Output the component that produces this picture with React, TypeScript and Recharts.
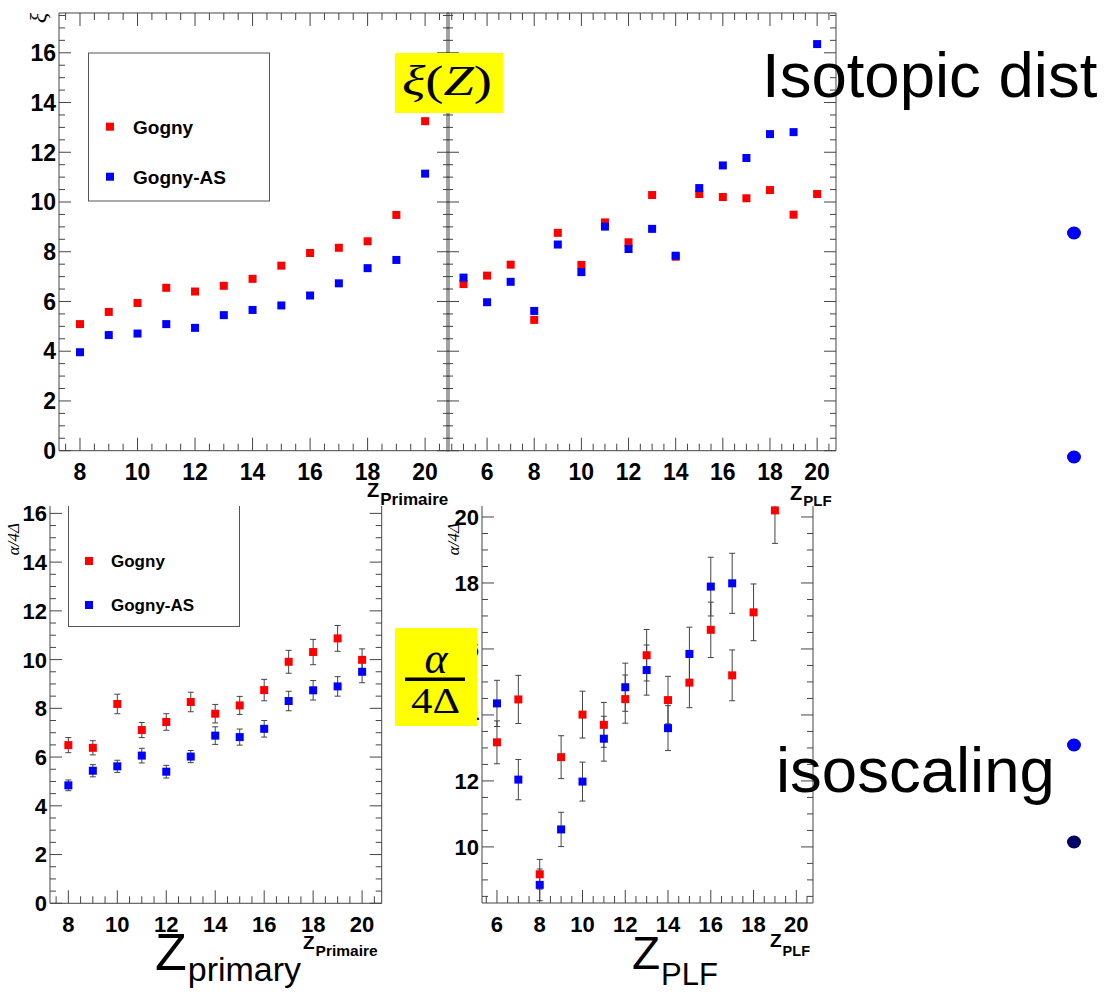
import React from 'react';
import { ScatterChart, Scatter, XAxis, YAxis, ErrorBar } from 'recharts';

// ---- data ----
const zPrimary = [8, 9, 10, 11, 12, 13, 14, 15, 16, 17, 18, 19, 20];
const zPlfTop = [5, 6, 7, 8, 9, 10, 11, 12, 13, 14, 15, 16, 17, 18, 19, 20];
const zPlfGogny = [6, 7, 8, 9, 10, 11, 12, 13, 14, 15, 16, 17, 18, 19];
const zPlfGognyAS = [6, 7, 8, 9, 10, 11, 12, 13, 14, 15, 16, 17];

const xiPrimaryGogny = [5.09, 5.58, 5.94, 6.55, 6.4, 6.63, 6.91, 7.44, 7.95, 8.16, 8.42, 9.48, 13.25];
const xiPrimaryGognyAS = [3.96, 4.65, 4.71, 5.09, 4.94, 5.45, 5.66, 5.84, 6.24, 6.73, 7.34, 7.67, 11.14];

const xiPlfGogny = [6.7, 7.04, 7.48, 5.26, 8.76, 7.47, 9.18, 8.38, 10.28, 7.8, 10.32, 10.2, 10.15, 10.48, 9.49, 10.32];
const xiPlfGognyAS = [6.96, 5.97, 6.79, 5.62, 8.29, 7.18, 9.01, 8.11, 8.92, 7.84, 10.56, 11.47, 11.77, 12.73, 12.81, 16.35];

const alphaPrimaryGogny = [6.49, 6.38, 8.18, 7.11, 7.44, 8.26, 7.78, 8.12, 8.75, 9.91, 10.31, 10.87, 9.99];
const alphaPrimaryGognyErr = [0.31, 0.29, 0.4, 0.31, 0.34, 0.4, 0.38, 0.37, 0.44, 0.47, 0.52, 0.53, 0.45];
const alphaPrimaryGognyAS = [4.84, 5.44, 5.62, 6.06, 5.4, 6.02, 6.88, 6.82, 7.16, 8.3, 8.74, 8.9, 9.5];
const alphaPrimaryGognyASErr = [0.22, 0.25, 0.25, 0.3, 0.26, 0.25, 0.36, 0.33, 0.34, 0.4, 0.4, 0.4, 0.45];

const alphaPlfGogny = [13.17, 14.47, 9.17, 12.72, 14.01, 13.7, 14.48, 15.81, 14.45, 14.98, 16.58, 15.2, 17.11, 20.2];
const alphaPlfGognyErr = [0.65, 0.73, 0.45, 0.65, 0.71, 0.68, 0.73, 0.78, 0.72, 0.76, 0.84, 0.77, 0.86, 1.0];
const alphaPlfGognyAS = [14.35, 12.04, 8.85, 10.53, 11.98, 13.28, 14.84, 15.36, 13.6, 15.85, 17.89, 17.99];
const alphaPlfGognyASErr = [0.7, 0.61, 0.48, 0.52, 0.59, 0.68, 0.73, 0.76, 0.68, 0.81, 0.89, 0.91];

const seriesNames = ['Gogny', 'Gogny-AS'];

const RED = '#ff0000';
const BLUE = '#0000ff';
const AXIS = '#444';
const SANS = '"Liberation Sans", Arial, Helvetica, sans-serif';
const SERIF = '"Liberation Serif", "Times New Roman", serif';

const toPoints = (xs: number[], ys: number[], errs?: number[]) =>
  xs.map((x, i) => ({ x, y: ys[i], err: errs ? errs[i] : 0 }));

// minor ticks every 0.5, majors (labelled) on even numbers, ROOT style
const halfSteps = (from: number, to: number) => {
  const out: number[] = [];
  for (let v = from; v <= to + 1e-9; v += 0.5) out.push(Math.round(v * 2) / 2);
  return out;
};
const isMajor = (v: number) => Math.abs(v / 2 - Math.round(v / 2)) < 1e-6;

type Side = 'bottom' | 'top' | 'left' | 'right';

const makeTick = (side: Side, fontSize: number, showLabels: boolean) => (props: any) => {
  const { x, y, payload } = props;
  const v = payload.value;
  const major = isMajor(v);
  const xLen = major ? 13 : 7;
  const yLen = major ? 12 : 6;
  let line;
  let label = null;
  if (side === 'bottom') {
    line = <line x1={x} x2={x} y1={y} y2={y - xLen} />;
    if (showLabels && major) {
      label = <text x={x} y={y + 29} textAnchor="middle">{v}</text>;
    }
  } else if (side === 'top') {
    line = <line x1={x} x2={x} y1={y} y2={y + xLen} />;
  } else if (side === 'left') {
    line = <line x1={x} x2={x + yLen} y1={y} y2={y} />;
    if (showLabels && major) {
      label = <text x={x - 3} y={y + fontSize * 0.36} textAnchor="end">{v}</text>;
    }
  } else {
    line = <line x1={x} x2={x - yLen} y1={y} y2={y} />;
  }
  return (
    <g>
      <g stroke={AXIS} strokeWidth={1}>{line}</g>
      {label && (
        <g fill="#000" stroke="none" fontFamily={SANS} fontWeight="bold" fontSize={fontSize}>{label}</g>
      )}
    </g>
  );
};

const squareShape = (color: string) => (props: any) => (
  <rect x={props.cx - 4} y={props.cy - 4} width={8} height={8} fill={color} />
);

const LW = 60;
const RW = 4;
const TH = 4;
const BH = 44;

type Series = { data: { x: number; y: number; err: number }[]; color: string; errors: boolean };

const Panel = ({ plot, xDomain, yDomain, xTicks, yTicks, fontSize, yLabels = true, series }: any) => {
  return (
    <div style={{ position: 'absolute', left: plot.left - LW, top: plot.top - TH }}>
      <ScatterChart
        width={plot.width + LW + RW}
        height={plot.height + TH + BH}
        margin={{ top: 0, right: 0, bottom: 0, left: 0 }}
      >
        <XAxis
          xAxisId="b" orientation="bottom" type="number" dataKey="x" domain={xDomain} allowDataOverflow
          ticks={xTicks} interval={0} height={BH} tickSize={0} tickMargin={0} tickLine={false}
          axisLine={{ stroke: AXIS }} tick={makeTick('bottom', fontSize, true)}
        />
        <XAxis
          xAxisId="t" orientation="top" type="number" dataKey="x" domain={xDomain} allowDataOverflow
          ticks={xTicks} interval={0} height={TH} tickSize={0} tickMargin={0} tickLine={false}
          axisLine={{ stroke: AXIS }} tick={makeTick('top', fontSize, false)}
        />
        <YAxis
          yAxisId="l" orientation="left" type="number" dataKey="y" domain={yDomain} allowDataOverflow
          ticks={yTicks} interval={0} width={LW} tickSize={0} tickMargin={0} tickLine={false}
          axisLine={{ stroke: AXIS }} tick={makeTick('left', fontSize, yLabels)}
        />
        <YAxis
          yAxisId="r" orientation="right" type="number" dataKey="y" domain={yDomain} allowDataOverflow
          ticks={yTicks} interval={0} width={RW} tickSize={0} tickMargin={0} tickLine={false}
          axisLine={{ stroke: AXIS }} tick={makeTick('right', fontSize, false)}
        />
        {series.map((s: Series, i: number) => (
          <Scatter
            key={i}
            xAxisId="b"
            yAxisId="l"
            data={s.data}
            fill={s.color}
            shape={squareShape(s.color)}
            isAnimationActive={false}
          >
            {s.errors && (
              <ErrorBar dataKey="err" direction="y" width={3} stroke={AXIS} strokeWidth={1} isAnimationActive={false} />
            )}
          </Scatter>
        ))}
      </ScatterChart>
    </div>
  );
};

// one text element with a lowered subscript
const labelText = (x: number, y: number, main: string, sub: string, mainSize: number, subSize: number, dy: number, bold = true) => (
  <text x={x} y={y} fontFamily={SANS} fontWeight={bold ? 'bold' : 'normal'} fill="#000" fontSize={mainSize}>
    {main}
    <tspan dy={dy} dx={1} fontSize={subSize}>{sub}</tspan>
  </text>
);

const App = () => {
  return (
    <div style={{ position: 'absolute', left: 0, top: 0, width: 1108, height: 992, overflow: 'hidden', background: '#fff' }}>
      {/* bottom row: alpha / 4 Delta */}
      <Panel
        plot={{ left: 50, top: 489, width: 331.7, height: 414.3 }}
        xDomain={[7.25, 20.8]}
        yDomain={[0, 17]}
        xTicks={halfSteps(7.5, 20.5)}
        yTicks={halfSteps(0, 17)}
        fontSize={22}
        series={[
          { data: toPoints(zPrimary, alphaPrimaryGogny, alphaPrimaryGognyErr), color: RED, errors: true },
          { data: toPoints(zPrimary, alphaPrimaryGognyAS, alphaPrimaryGognyASErr), color: BLUE, errors: true },
        ]}
      />
      <Panel
        plot={{ left: 482.3, top: 483.7, width: 331, height: 419 }}
        xDomain={[5.3, 20.78]}
        yDomain={[8.3, 21]}
        xTicks={halfSteps(5.5, 20.5)}
        yTicks={halfSteps(8.5, 21)}
        fontSize={22}
        series={[
          { data: toPoints(zPlfGogny, alphaPlfGogny, alphaPlfGognyErr), color: RED, errors: true },
          { data: toPoints(zPlfGognyAS, alphaPlfGognyAS, alphaPlfGognyASErr), color: BLUE, errors: true },
        ]}
      />

      <svg width={1108} height={992} style={{ position: 'absolute', left: 0, top: 0 }}>
        {/* bottom-left legend */}
        <rect x={68.5} y={470} width={171} height={156.5} fill="#fff" stroke="#555" strokeWidth={1} />
        <rect x={85} y={557} width={8} height={8} fill={RED} />
        <rect x={85} y={601} width={8} height={8} fill={BLUE} />
        <g fontFamily={SANS} fontWeight="bold" fontSize={17} fill="#000">
          <text x={111} y={567}>{seriesNames[0]}</text>
          <text x={111} y={611}>{seriesNames[1]}</text>
        </g>
        {/* bottom y axis titles */}
        <text transform="translate(19,523) rotate(-90)" textAnchor="end" fontFamily={SERIF} fontSize={17} fontStyle="italic">α/4Δ</text>
        <text transform="translate(459,523) rotate(-90)" textAnchor="end" fontFamily={SERIF} fontSize={17} fontStyle="italic">α/4Δ</text>
        {/* top canvas background */}
        <rect x={20} y={0} width={820} height={506} fill="#fff" />
      </svg>

      {/* top row: zeta */}
      <Panel
        plot={{ left: 59, top: 13.3, width: 390, height: 437.7 }}
        xDomain={[7.27, 20.83]}
        yDomain={[0, 17.6]}
        xTicks={halfSteps(7.5, 20.5)}
        yTicks={halfSteps(0, 17.5)}
        fontSize={23}
        series={[
          { data: toPoints(zPrimary, xiPrimaryGogny), color: RED, errors: false },
          { data: toPoints(zPrimary, xiPrimaryGognyAS), color: BLUE, errors: false },
        ]}
      />
      <Panel
        plot={{ left: 447, top: 13.3, width: 389, height: 437.7 }}
        xDomain={[4.3, 20.8]}
        yDomain={[0, 17.6]}
        xTicks={halfSteps(4.5, 20.5)}
        yTicks={halfSteps(0, 17.5)}
        fontSize={23}
        yLabels={false}
        series={[
          { data: toPoints(zPlfTop, xiPlfGogny), color: RED, errors: false },
          { data: toPoints(zPlfTop, xiPlfGognyAS), color: BLUE, errors: false },
        ]}
      />

      <svg width={1108} height={992} style={{ position: 'absolute', left: 0, top: 0 }}>
        {/* top-left legend */}
        <rect x={88.5} y={53} width={181} height={148} fill="#fff" stroke="#555" strokeWidth={1} />
        <rect x={106} y={122.7} width={8} height={8} fill={RED} />
        <rect x={106} y={172.7} width={8} height={8} fill={BLUE} />
        <g fontFamily={SANS} fontWeight="bold" fontSize={19} fill="#000">
          <text x={133} y={133.5}>{seriesNames[0]}</text>
          <text x={133} y={183.5}>{seriesNames[1]}</text>
        </g>
        <text transform="translate(46,18) rotate(-90)" textAnchor="middle" fontFamily={SERIF} fontSize={24} fontStyle="italic">ξ</text>

        {/* axis titles */}
        {labelText(367, 497, 'Z', 'Primaire', 20, 17, 8)}
        {labelText(790, 500, 'Z', 'PLF', 20, 15, 6)}
        {labelText(303, 949, 'Z', 'Primaire', 19, 15.5, 7)}
        {labelText(770, 947, 'Z', 'PLF', 19, 14.5, 9)}
        {labelText(155, 970, 'Z', 'primary', 52, 34, 11, false)}
        {labelText(632, 969, 'Z', 'PLF', 46, 31, 16, false)}

        {/* yellow formula boxes */}
        <rect x={395} y={53} width={108} height={60} fill="#ffff00" />
        <text x={447} y={95} textAnchor="middle" fontFamily={SERIF} fontSize={42} textLength={90} lengthAdjust="spacingAndGlyphs">
          <tspan fontStyle="italic">ξ</tspan>(<tspan fontStyle="italic">Z</tspan>)
        </text>
        <rect x={395} y={628} width={82} height={98} fill="#ffff00" />
        <text x={436} y={673} textAnchor="middle" fontFamily={SERIF} fontSize={44} fontStyle="italic">α</text>
        <rect x={405} y={677.5} width={60} height={3.5} fill="#000" />
        <text x={435.5} y={713} textAnchor="middle" fontFamily={SERIF} fontSize={36} textLength={49} lengthAdjust="spacingAndGlyphs">4Δ</text>

        {/* slide text */}
        <text x={762} y={97} fontFamily={SANS} fontSize={63.5} fill="#000">Isotopic dist</text>
        <text x={776} y={792} fontFamily={SANS} fontSize={63.5} fill="#000">isoscaling</text>
        <ellipse cx={1074} cy={233} rx={7} ry={6.5} fill="#0000ff" />
        <ellipse cx={1074} cy={457} rx={7} ry={6.5} fill="#0000ff" />
        <ellipse cx={1074} cy={745} rx={7} ry={6.5} fill="#0000ff" />
        <ellipse cx={1074} cy={842} rx={7} ry={6.5} fill="#000066" />
      </svg>
    </div>
  );
};

export default App;
